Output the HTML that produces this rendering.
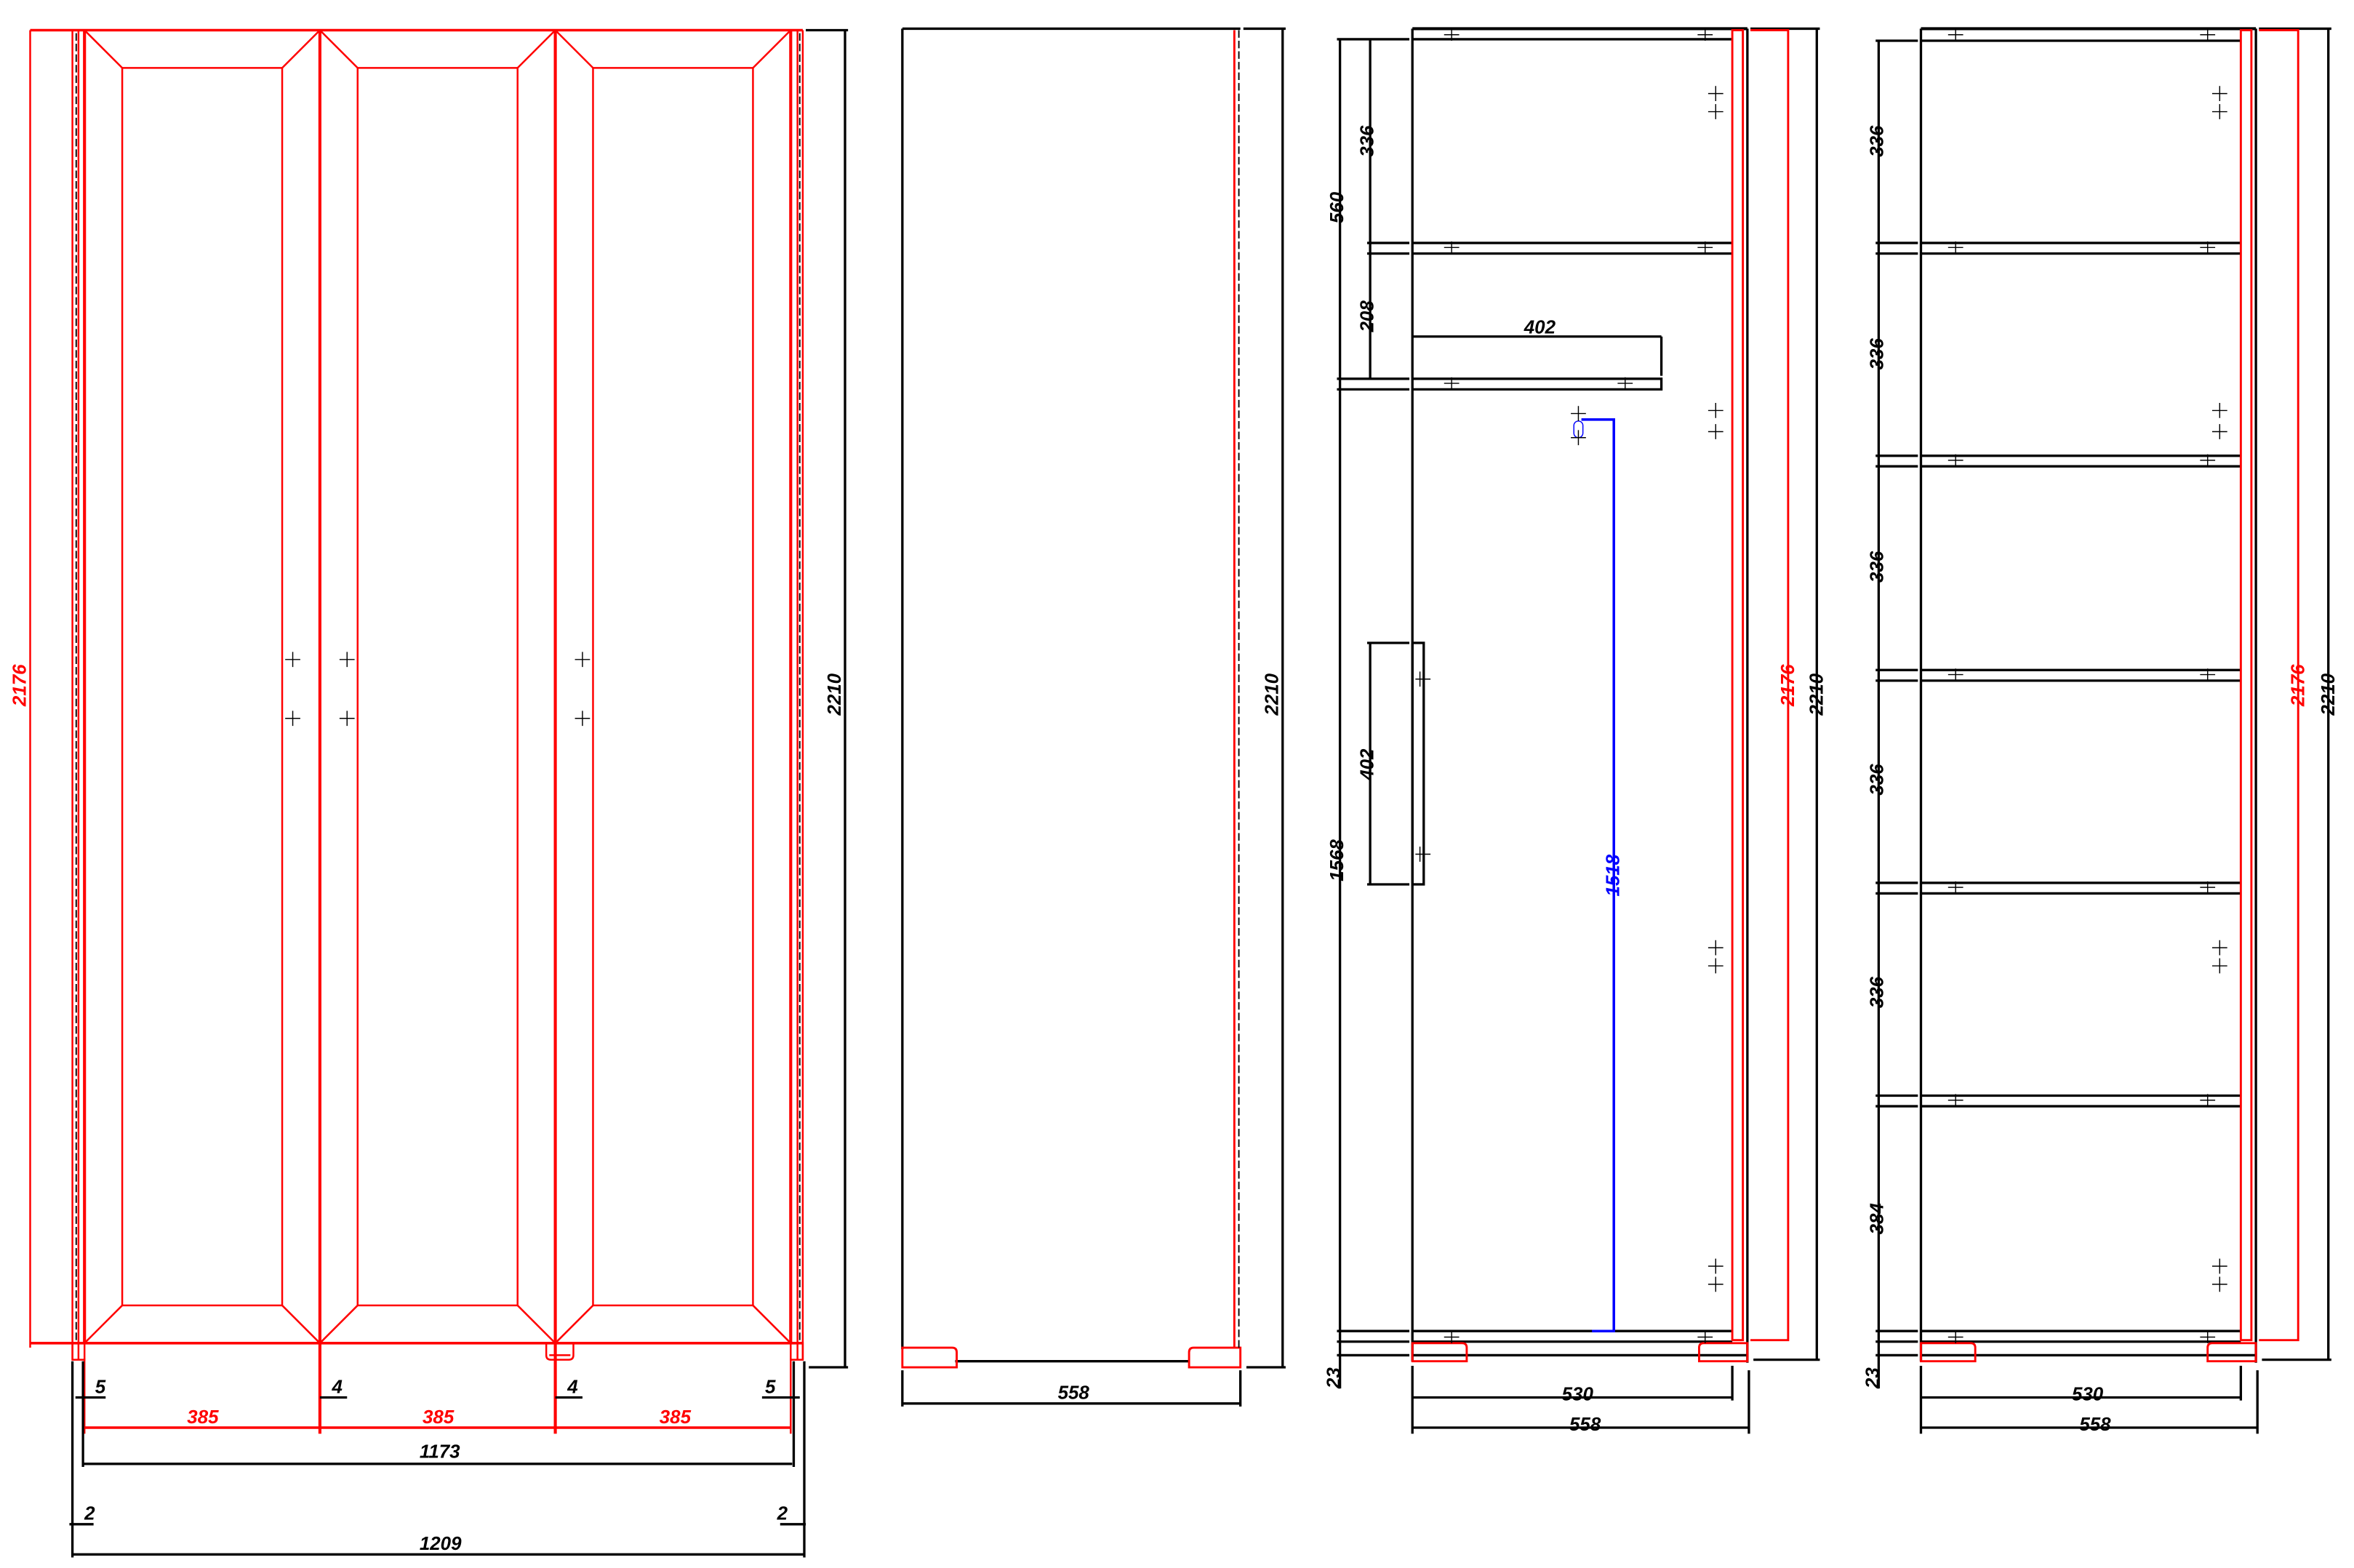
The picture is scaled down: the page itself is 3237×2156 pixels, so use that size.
<!DOCTYPE html>
<html><head><meta charset="utf-8"><style>
html,body{margin:0;padding:0;background:#fff;}
svg{display:block;}
text{font-family:"Liberation Sans Narrow","Liberation Sans",sans-serif;font-style:italic;font-size:12.5px;font-weight:bold;}
</style></head><body>
<svg width="3237" height="2156" viewBox="0 0 1560 1039" preserveAspectRatio="none" xmlns="http://www.w3.org/2000/svg">
<rect width="1560" height="1039" fill="#fff"/>
<!-- ========== PANEL 1 (front) ========== -->
<g stroke="#f00" fill="none" stroke-width="1.2">
  <line x1="20" y1="20" x2="532" y2="20" stroke-width="1.7"/>
  <line x1="20" y1="890" x2="532" y2="890" stroke-width="1.7"/>
  <line x1="20" y1="20" x2="20" y2="893"/>
  <line x1="48" y1="20" x2="48" y2="901"/>
  <line x1="52" y1="20" x2="52" y2="901"/>
  <line x1="56" y1="20" x2="56" y2="890" stroke-width="2"/>
  <line x1="524" y1="20" x2="524" y2="890" stroke-width="2"/>
  <line x1="528.5" y1="20" x2="528.5" y2="901"/>
  <line x1="532" y1="20" x2="532" y2="901"/>
  <line x1="212" y1="20" x2="212" y2="950" stroke-width="2"/>
  <line x1="368" y1="20" x2="368" y2="950" stroke-width="2"/>
  <rect x="48" y="890" width="8" height="11"/>
  <rect x="524" y="890" width="8" height="11"/>
  <path d="M362 890 v8 q0 3 3 3 h12 q3 0 3 -3 v-8 M364 898 h14"/>
  <rect x="81" y="45" width="106" height="820"/>
  <path d="M56 20 L81 45 M212 20 L187 45 M56 890 L81 865 M212 890 L187 865"/>
  <rect x="237" y="45" width="106" height="820"/>
  <path d="M212 20 L237 45 M368 20 L343 45 M212 890 L237 865 M368 890 L343 865"/>
  <rect x="393" y="45" width="106" height="820"/>
  <path d="M368 20 L393 45 M524 20 L499 45 M368 890 L393 865 M524 890 L499 865"/>
  <line x1="56" y1="946" x2="524" y2="946" stroke-width="1.7"/>
  <line x1="56" y1="900" x2="56" y2="950"/>
  <line x1="524" y1="900" x2="524" y2="950"/>
</g>
<g stroke="#000" fill="none" stroke-width="0.9" stroke-dasharray="5,2">
  <line x1="50.5" y1="22" x2="50.5" y2="888"/>
  <line x1="530" y1="22" x2="530" y2="888"/>
</g>
<g stroke="#000" fill="none" stroke-width="0.7">
  <path d="M189 437h10M194 432v10M189 476h10M194 471v10"/>
  <path d="M225 437h10M230 432v10M225 476h10M230 471v10"/>
  <path d="M381 437h10M386 432v10M381 476h10M386 471v10"/>
</g>
<g stroke="#000" fill="none" stroke-width="1.6">
  <line x1="534" y1="20" x2="562" y2="20"/>
  <line x1="536" y1="906" x2="562" y2="906"/>
  <line x1="560" y1="20" x2="560" y2="906"/>
  <line x1="48" y1="902" x2="48" y2="1032"/>
  <line x1="533" y1="902" x2="533" y2="1032"/>
  <line x1="55" y1="902" x2="55" y2="972"/>
  <line x1="526" y1="902" x2="526" y2="972"/>
  <line x1="50" y1="926" x2="70" y2="926"/>
  <line x1="505" y1="926" x2="530" y2="926"/>
  <line x1="212" y1="926" x2="230" y2="926"/>
  <line x1="368" y1="926" x2="386" y2="926"/>
  <line x1="55" y1="970" x2="525" y2="970"/>
  <line x1="46" y1="1010" x2="62" y2="1010"/>
  <line x1="517" y1="1010" x2="534" y2="1010"/>
  <line x1="48" y1="1030" x2="533" y2="1030"/>
</g>
<g fill="#000">
  <text x="63" y="923">5</text><text x="507" y="923">5</text>
  <text x="220" y="923">4</text><text x="376" y="923">4</text>
  <text x="278" y="966">1173</text>
  <text x="56" y="1007">2</text><text x="515" y="1007">2</text>
  <text x="278" y="1027">1209</text>
  <text transform="translate(557,474) rotate(-90)">2210</text>
</g>
<g fill="#f00">
  <text x="124" y="943">385</text><text x="280" y="943">385</text><text x="437" y="943">385</text>
  <text transform="translate(17,468) rotate(-90)">2176</text>
</g>
<!-- ========== PANEL 2 (side) ========== -->
<g stroke="#000" fill="none" stroke-width="1.6">
  <line x1="598" y1="19" x2="822" y2="19"/>
  <line x1="598" y1="19" x2="598" y2="894"/>
  <line x1="633" y1="902" x2="788" y2="902"/>
  <line x1="824" y1="19" x2="852" y2="19"/>
  <line x1="826" y1="906" x2="852" y2="906"/>
  <line x1="850" y1="19" x2="850" y2="906"/>
  <line x1="598" y1="908" x2="598" y2="932"/>
  <line x1="822" y1="908" x2="822" y2="932"/>
  <line x1="598" y1="930" x2="822" y2="930"/>
</g>
<g stroke="#f00" fill="none" stroke-width="1.4">
  <line x1="818" y1="20" x2="818" y2="893"/>
  <path d="M598 893 h33 q3 0 3 3 v10 h-36 z"/>
  <path d="M822 893 h-31 q-3 0 -3 3 v10 h34 z"/>
</g>
<line x1="821" y1="20" x2="821" y2="893" stroke="#000" stroke-width="0.9" stroke-dasharray="5,2"/>
<g fill="#000">
  <text x="701" y="927">558</text>
  <text transform="translate(847,474) rotate(-90)">2210</text>
</g>
<!-- ========== PANEL 3 ========== -->
<g transform="translate(2,0)">
<g stroke="#000" fill="none" stroke-width="1.6">
  <line x1="934" y1="19" x2="1156" y2="19" stroke-width="2"/>
  <line x1="934" y1="19" x2="934" y2="902"/>
  <line x1="934" y1="26" x2="1146" y2="26"/>
  <line x1="934" y1="161" x2="1146" y2="161"/>
  <line x1="934" y1="168" x2="1146" y2="168"/>
  <path d="M934 251 H1099 V258 H934"/>
  <line x1="1099" y1="223" x2="1099" y2="249"/>
  <line x1="934" y1="223" x2="1099" y2="223"/>
  <line x1="934" y1="882" x2="1146" y2="882"/>
  <line x1="934" y1="889" x2="1146" y2="889"/>
  <line x1="934" y1="898" x2="1156" y2="898"/>
  <line x1="1156" y1="19" x2="1156" y2="903"/>
  <rect x="934" y="426" width="7.5" height="160"/>
  <line x1="886" y1="26" x2="886" y2="920"/>
  <line x1="906" y1="26" x2="906" y2="251"/>
  <path d="M884 26H932 M904 161H932 M904 168H932 M884 251H932 M884 258H932 M884 882H932 M884 889H932 M884 898H932"/>
  <path d="M904 426H932 M904 586H932"/>
  <line x1="906" y1="426" x2="906" y2="586"/>
  <line x1="1158" y1="19" x2="1204" y2="19"/>
  <line x1="1160" y1="901" x2="1204" y2="901"/>
  <line x1="1202" y1="19" x2="1202" y2="901"/>
  <line x1="934" y1="905" x2="934" y2="950"/>
  <line x1="1146" y1="905" x2="1146" y2="928"/>
  <line x1="1157" y1="908" x2="1157" y2="950"/>
  <line x1="934" y1="926" x2="1146" y2="926"/>
  <line x1="934" y1="946" x2="1157" y2="946"/>
</g>
<g stroke="#f00" fill="none" stroke-width="1.4">
  <rect x="1146" y="20" width="7" height="868"/>
  <path d="M1158 20 H1183 V888 H1158"/>
  <path d="M934 890 h33 q3 0 3 3 v9 h-36 z"/>
  <path d="M1156 890 h-29 q-3 0 -3 3 v9 h32 z"/>
</g>
<g stroke="#00f" fill="none" stroke-width="1.7">
  <path d="M1046 278 H1067.5 V882 H1053"/>
  <rect x="1041" y="279" width="6" height="11" rx="3" stroke-width="0.7"/>
</g>
<g stroke="#000" fill="none" stroke-width="0.7">
  <path d="M955 23h10M960 19v8 M1123 23h10M1128 19v8"/>
  <path d="M955 164h10M960 160v8 M1123 164h10M1128 160v8"/>
  <path d="M955 254h10M960 250v8 M1070 254h10M1075 250v8"/>
  <path d="M955 886h10M960 882v8 M1123 886h10M1128 882v8"/>
  <path d="M1130 62h10M1135 57v10 M1130 74h10M1135 69v10"/>
  <path d="M1130 272h10M1135 267v10 M1130 286h10M1135 281v10"/>
  <path d="M1130 628h10M1135 623v10 M1130 640h10M1135 635v10"/>
  <path d="M1130 839h10M1135 834v10 M1130 851h10M1135 846v10"/>
  <path d="M936 450h10M939 445v10 M936 566h10M939 561v10"/>
  <path d="M1039 274h10M1044 269v10 M1039 290h10M1044 285v10"/>
</g>
<g fill="#000">
  <text x="1008" y="221">402</text>
  <text x="1033" y="928">530</text>
  <text x="1038" y="948">558</text>
  <text transform="translate(888,148) rotate(-90)">560</text>
  <text transform="translate(908,104) rotate(-90)">336</text>
  <text transform="translate(908,220) rotate(-90)">208</text>
  <text transform="translate(908,517) rotate(-90)">402</text>
  <text transform="translate(888,584) rotate(-90)">1568</text>
  <text transform="translate(886,920) rotate(-90)">23</text>
  <text transform="translate(1206,474) rotate(-90)">2210</text>
</g>
<text fill="#f00" transform="translate(1187,468) rotate(-90)">2176</text>
<text fill="#00f" transform="translate(1071,594) rotate(-90)">1518</text>
</g>
<!-- ========== PANEL 4 ========== -->
<g transform="translate(2,0)">
<g stroke="#000" fill="none" stroke-width="1.6">
  <line x1="1271" y1="19" x2="1493" y2="19" stroke-width="2"/>
  <line x1="1271" y1="19" x2="1271" y2="902"/>
  <path d="M1271 27H1483 M1271 161H1483 M1271 168H1483 M1271 302H1483 M1271 309H1483 M1271 444H1483 M1271 451H1483 M1271 585H1483 M1271 592H1483 M1271 726H1483 M1271 733H1483 M1271 882H1483 M1271 889H1483"/>
  <line x1="1271" y1="898" x2="1493" y2="898"/>
  <line x1="1493" y1="19" x2="1493" y2="903"/>
  <line x1="1243" y1="27" x2="1243" y2="920"/>
  <path d="M1241 27H1269 M1241 161H1269 M1241 168H1269 M1241 302H1269 M1241 309H1269 M1241 444H1269 M1241 451H1269 M1241 585H1269 M1241 592H1269 M1241 726H1269 M1241 733H1269 M1241 882H1269 M1241 889H1269 M1241 898H1269"/>
  <line x1="1495" y1="19" x2="1543" y2="19"/>
  <line x1="1497" y1="901" x2="1543" y2="901"/>
  <line x1="1541" y1="19" x2="1541" y2="901"/>
  <line x1="1271" y1="905" x2="1271" y2="950"/>
  <line x1="1483" y1="905" x2="1483" y2="928"/>
  <line x1="1494" y1="908" x2="1494" y2="950"/>
  <line x1="1271" y1="926" x2="1483" y2="926"/>
  <line x1="1271" y1="946" x2="1494" y2="946"/>
</g>
<g stroke="#f00" fill="none" stroke-width="1.4">
  <rect x="1483" y="20" width="7" height="868"/>
  <path d="M1495 20 H1521 V888 H1495"/>
  <path d="M1271 890 h33 q3 0 3 3 v9 h-36 z"/>
  <path d="M1493 890 h-29 q-3 0 -3 3 v9 h32 z"/>
</g>
<g stroke="#000" fill="none" stroke-width="0.7">
  <path d="M1289 23h10M1294 19v8 M1456 23h10M1461 19v8"/>
  <path d="M1289 164h10M1294 160v8 M1456 164h10M1461 160v8"/>
  <path d="M1289 305h10M1294 301v8 M1456 305h10M1461 301v8"/>
  <path d="M1289 447h10M1294 443v8 M1456 447h10M1461 443v8"/>
  <path d="M1289 588h10M1294 584v8 M1456 588h10M1461 584v8"/>
  <path d="M1289 729h10M1294 725v8 M1456 729h10M1461 725v8"/>
  <path d="M1289 886h10M1294 882v8 M1456 886h10M1461 882v8"/>
  <path d="M1464 62h10M1469 57v10 M1464 74h10M1469 69v10"/>
  <path d="M1464 272h10M1469 267v10 M1464 286h10M1469 281v10"/>
  <path d="M1464 628h10M1469 623v10 M1464 640h10M1469 635v10"/>
  <path d="M1464 839h10M1469 834v10 M1464 851h10M1469 846v10"/>
</g>
<g fill="#000">
  <text transform="translate(1246,104) rotate(-90)">336</text>
  <text transform="translate(1246,245) rotate(-90)">336</text>
  <text transform="translate(1246,386) rotate(-90)">336</text>
  <text transform="translate(1246,527) rotate(-90)">336</text>
  <text transform="translate(1246,668) rotate(-90)">336</text>
  <text transform="translate(1246,818) rotate(-90)">384</text>
  <text transform="translate(1243,920) rotate(-90)">23</text>
  <text x="1371" y="928">530</text>
  <text x="1376" y="948">558</text>
  <text transform="translate(1545,474) rotate(-90)">2210</text>
</g>
<text fill="#f00" transform="translate(1525,468) rotate(-90)">2176</text>
</g>
</svg>
</body></html>
